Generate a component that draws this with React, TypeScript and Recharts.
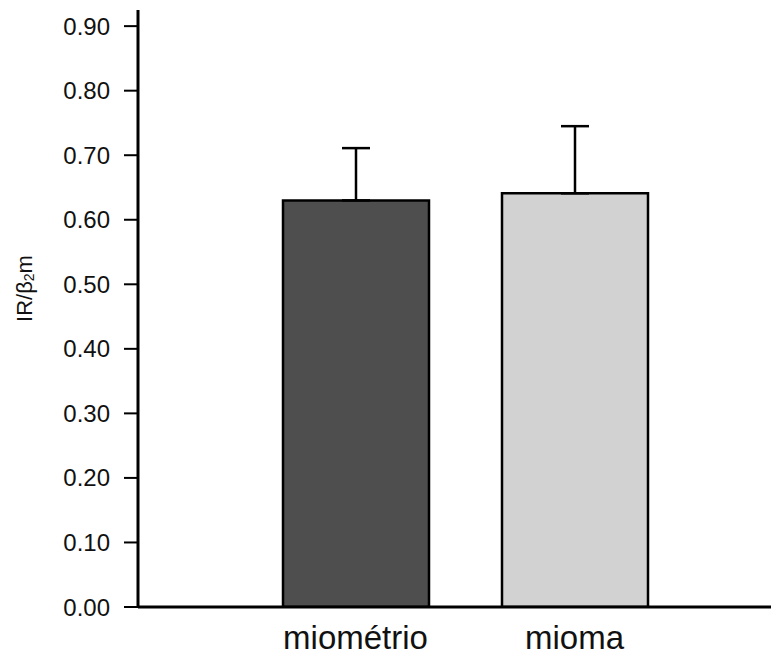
import React from "react";
import { BarChart, Bar, XAxis, YAxis, Cell, ErrorBar } from "recharts";

const categories = ["miométrio", "mioma"];
const means = [0.63, 0.641];
const errorsUp = [0.081, 0.104];
const barColors = ["#4e4e4e", "#d2d2d2"];
const yTicks = [0, 0.1, 0.2, 0.3, 0.4, 0.5, 0.6, 0.7, 0.8, 0.9];

const data = categories.map((c, i) => ({
  name: c,
  value: means[i],
  err: [0, errorsUp[i]],
}));

const FONT = "'Liberation Sans', Arial, sans-serif";

const YLabel = (props: any) => {
  const vb = props.viewBox || { x: 0, y: 0, width: 0, height: 0 };
  const cx = vb.x + 16;
  const cy = vb.y + vb.height / 2 - 20;
  return (
    <text
      x={cx}
      y={cy}
      transform={`rotate(-90, ${cx}, ${cy})`}
      textAnchor="middle"
      dominantBaseline="central"
      fontFamily={FONT}
      fontSize={22}
      fill="#111"
    >
      IR/β<tspan fontSize={14} dy={5}>2</tspan>
      <tspan dy={-5}>m</tspan>
    </text>
  );
};

export default function App() {
  return (
    <div style={{ width: 771, height: 651, background: "#fff" }}>
      <BarChart
        width={771}
        height={651}
        data={data}
        margin={{ top: 2, right: 0, bottom: 0, left: 0 }}
      >
        <XAxis
          dataKey="name"
          height={52}
          padding={{ left: 108, right: 95 }}
          tickLine={false}
          tickMargin={13}
          axisLine={{ stroke: "#000", strokeWidth: 3 }}
          tick={{ fontSize: 33, fontFamily: FONT, fill: "#111" }}
          interval={0}
        />
        <YAxis
          width={130}
          domain={[0, 0.925]}
          ticks={yTicks}
          tickFormatter={(v: number) => v.toFixed(2)}
          tickSize={14}
          tickMargin={14}
          axisLine={{ stroke: "#000", strokeWidth: 3 }}
          tickLine={{ stroke: "#000", strokeWidth: 2 }}
          tick={{ fontSize: 24, fontFamily: FONT, fill: "#111" }}
          interval={0}
          allowDataOverflow
          label={{ content: YLabel }}
        />
        <Bar
          dataKey="value"
          barSize={146}
          stroke="#000"
          strokeWidth={2.5}
          isAnimationActive={false}
        >
          {data.map((d, i) => (
            <Cell key={d.name} fill={barColors[i]} />
          ))}
          <ErrorBar
            dataKey="err"
            width={14}
            stroke="#000"
            strokeWidth={2.5}
            direction="y"
            isAnimationActive={false}
          />
        </Bar>
      </BarChart>
    </div>
  );
}
